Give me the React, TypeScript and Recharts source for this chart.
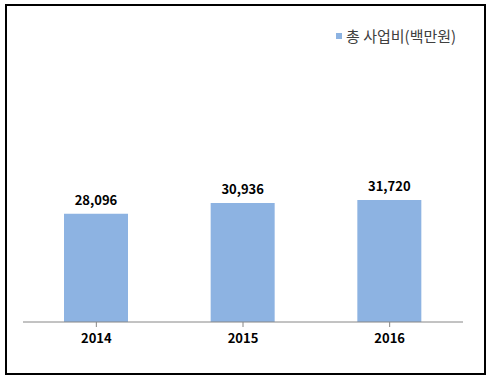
import { BarChart, Bar, XAxis, YAxis, LabelList, Legend } from 'recharts';

const years = ['2014', '2015', '2016'];
const totals = [28096, 30936, 31720];
const seriesName = '총 사업비(백만원)';

const data = years.map((year, i) => ({ year, total: totals[i] }));

const BAR_COLOR = '#8DB3E2';
const FONT = '"Noto Sans CJK KR", "Noto Sans", sans-serif';

function LegendBox() {
  return (
    <div style={{ display: 'flex', alignItems: 'center', fontFamily: FONT, fontSize: 15, lineHeight: '20px', color: '#404040' }}>
      <span style={{ width: 6, height: 6, background: BAR_COLOR, marginRight: 4, display: 'inline-block' }} />
      <span>{seriesName}</span>
    </div>
  );
}

export default function App() {
  return (
    <div style={{ position: 'absolute', left: 0, top: 0, width: 490, height: 380, background: '#fff' }}>
      <div
        style={{
          position: 'absolute',
          left: 5,
          top: 4,
          width: 481,
          height: 371,
          border: '2px solid #000',
          boxSizing: 'border-box',
        }}
      />
      <div style={{ position: 'absolute', left: 0, top: 0 }}>
        <BarChart width={490} height={380} data={data} margin={{ top: 148, right: 27, bottom: 28, left: 23 }}>
          <XAxis
            dataKey="year"
            axisLine={{ stroke: '#868686' }}
            tickLine={{ stroke: '#868686' }}
            tickSize={5}
            tickMargin={7}
            height={30}
            interval={0}
            tick={{ fill: '#000', fontSize: 13, fontWeight: 'bold', fontFamily: FONT }}
          />
          <YAxis hide domain={[0, 40000]} />
          <Legend
            verticalAlign="top"
            align="right"
            height={20}
            content={() => <LegendBox />}
            wrapperStyle={{ top: 26, left: 336, width: 'auto' }}
          />
          <Bar dataKey="total" name={seriesName} fill={BAR_COLOR} barSize={64} isAnimationActive={false}>
            <LabelList
              dataKey="total"
              position="top"
              offset={9}
              formatter={(v: number) => v.toLocaleString('en-US')}
              style={{ fill: '#000', fontSize: 13, fontWeight: 'bold', fontFamily: FONT }}
            />
          </Bar>
        </BarChart>
      </div>
    </div>
  );
}
